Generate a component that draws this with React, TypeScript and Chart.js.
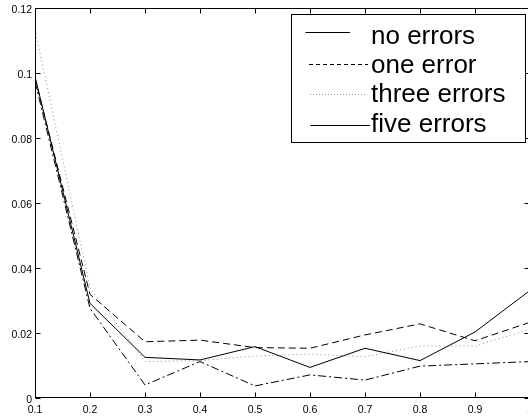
import React, { useEffect, useRef } from "react";
import { Chart, registerables } from "chart.js";

Chart.register(...registerables);

const xValues = [0.1, 0.2, 0.3, 0.4, 0.5, 0.6, 0.7, 0.8, 0.9, 1.0];
const noErrors = [0.099, 0.0292, 0.0126, 0.0118, 0.0159, 0.0095, 0.0154, 0.0116, 0.0204, 0.0332];
const oneError = [0.0985, 0.032, 0.0174, 0.0179, 0.0156, 0.0154, 0.0195, 0.0229, 0.0177, 0.0234];
const threeErrors = [0.1135, 0.034, 0.0113, 0.0116, 0.013, 0.0136, 0.0128, 0.0161, 0.0161, 0.0213];
const fiveErrors = [0.0975, 0.0277, 0.0041, 0.0113, 0.0038, 0.0072, 0.0056, 0.0099, 0.0106, 0.0113];

const seriesLabels = ["no errors", "one error", "three errors", "five errors"];

const xTickValues = [0.1, 0.2, 0.3, 0.4, 0.5, 0.6, 0.7, 0.8, 0.9, 1.0];
const xTickLabels = ["0.1", "0.2", "0.3", "0.4", "0.5", "0.6", "0.7", "0.8", "0.9", "1"];
const yTickValues = [0, 0.02, 0.04, 0.06, 0.08, 0.1, 0.12];
const yTickLabels = ["0", "0.02", "0.04", "0.06", "0.08", "0.1", "0.12"];

const FONT = '"Liberation Sans", Arial, Helvetica, sans-serif';

const framePlugin = {
  id: "matlabFrame",
  afterDraw(chart: any) {
    const { ctx, chartArea: a, scales } = chart;
    const xs = scales.x;
    const ys = scales.y;
    ctx.save();
    ctx.strokeStyle = "#000";
    ctx.lineWidth = 1;
    ctx.setLineDash([]);
    const L = Math.round(a.left) + 0.5;
    const R = Math.round(a.right) - 0.5;
    const T = Math.round(a.top) + 0.5;
    const B = Math.round(a.bottom) - 0.5;
    ctx.strokeRect(L, T, R - L, B - T);
    // inward ticks
    ctx.beginPath();
    xTickValues.forEach((v) => {
      const px = Math.round(xs.getPixelForValue(v)) + 0.5;
      ctx.moveTo(px, B);
      ctx.lineTo(px, B - 5);
      ctx.moveTo(px, T);
      ctx.lineTo(px, T + 5);
    });
    yTickValues.forEach((v) => {
      const py = Math.round(ys.getPixelForValue(v)) + 0.5;
      ctx.moveTo(L, py);
      ctx.lineTo(L + 5, py);
      ctx.moveTo(R, py);
      ctx.lineTo(R - 5, py);
    });
    ctx.stroke();

    // tick labels
    ctx.fillStyle = "#000";
    ctx.font = "10.5px " + FONT;
    ctx.textAlign = "center";
    ctx.textBaseline = "alphabetic";
    xTickValues.forEach((v, i) => {
      ctx.fillText(xTickLabels[i], xs.getPixelForValue(v), 413);
    });
    ctx.textAlign = "right";
    yTickValues.forEach((v, i) => {
      ctx.fillText(yTickLabels[i], 32, ys.getPixelForValue(v) + 5);
    });

    // legend
    const bx = 291.5, by = 14.5, bw = 234, bh = 128;
    ctx.fillStyle = "#fff";
    ctx.fillRect(bx, by, bw, bh);
    ctx.strokeStyle = "#000";
    ctx.strokeRect(bx, by, bw, bh);
    const lineY = [32.5, 64.5, 94.5, 125.5];
    const lineX0 = [305.5, 309, 310, 310.5];
    const lineX1 = [350, 368, 367, 370];
    const dashes = [[], [4, 3], [1, 2], []];
    const colors = ["#000", "#000", "#9a9a9a", "#000"];
    const baselines = [44, 73.2, 102.4, 131.6];
    chart.data.datasets.forEach((ds: any, i: number) => {
      ctx.beginPath();
      ctx.strokeStyle = colors[i];
      ctx.setLineDash(dashes[i]);
      ctx.moveTo(lineX0[i], lineY[i]);
      ctx.lineTo(lineX1[i], lineY[i]);
      ctx.stroke();
    });
    ctx.setLineDash([]);
    ctx.fillStyle = "#000";
    ctx.font = "26px " + FONT;
    ctx.textAlign = "left";
    chart.data.datasets.forEach((ds: any, i: number) => {
      ctx.fillText(ds.label, 371, baselines[i]);
    });
    ctx.restore();
  },
};

function toPoints(ys: number[]) {
  return xValues.map((x, i) => ({ x, y: ys[i] }));
}

export default function App() {
  const ref = useRef<HTMLCanvasElement | null>(null);
  useEffect(() => {
    if (!ref.current) return;
    const chart = new Chart(ref.current, {
      type: "line",
      data: {
        datasets: [
          {
            label: seriesLabels[0],
            data: toPoints(noErrors),
            borderColor: "#000",
            borderWidth: 1,
            pointRadius: 0,
            tension: 0,
          },
          {
            label: seriesLabels[1],
            data: toPoints(oneError),
            borderColor: "#000",
            borderWidth: 1,
            borderDash: [7, 4],
            pointRadius: 0,
            tension: 0,
          },
          {
            label: seriesLabels[2],
            data: toPoints(threeErrors),
            borderColor: "#8a8a8a",
            borderWidth: 1,
            borderDash: [1, 3],
            pointRadius: 0,
            tension: 0,
          },
          {
            label: seriesLabels[3],
            data: toPoints(fiveErrors),
            borderColor: "#000",
            borderWidth: 1,
            borderDash: [8, 3, 2, 3],
            pointRadius: 0,
            tension: 0,
          },
        ],
      },
      options: {
        responsive: false,
        animation: false,
        events: [],
        layout: { padding: { top: 8.3, right: 2, left: 0, bottom: 0 } },
        plugins: { legend: { display: false }, tooltip: { enabled: false } },
        scales: {
          x: {
            type: "linear",
            min: 0.1,
            max: 1.0,
            ticks: { display: false },
            grid: { display: false },
            border: { display: false },
            afterFit: (s: any) => {
              s.height = 17.7;
            },
          },
          y: {
            type: "linear",
            min: 0,
            max: 0.12,
            ticks: { display: false },
            grid: { display: false },
            border: { display: false },
            afterFit: (s: any) => {
              s.width = 35;
            },
          },
        },
      },
      plugins: [framePlugin],
    } as any);
    return () => chart.destroy();
  }, []);

  return (
    <div
      style={{
        position: "fixed",
        left: 0,
        top: 0,
        width: 528,
        height: 416,
        overflow: "hidden",
        background: "#fff",
      }}
    >
      <canvas ref={ref} width={532} height={416} style={{ display: "block" }} />
    </div>
  );
}
